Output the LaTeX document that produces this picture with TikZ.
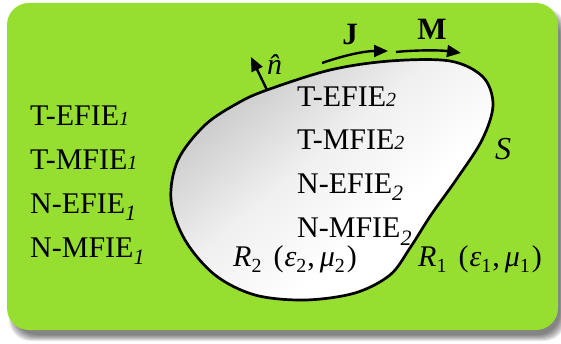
\documentclass[tikz,border=0pt]{standalone}
\usepackage{fontspec}
\setmainfont{Liberation Serif}
\usetikzlibrary{arrows.meta}
\definecolor{bggreen}{RGB}{150,223,48}
\newcommand{\subT}[1]{{\fontsize{20}{20}\selectfont\itshape #1}}
\newcommand{\subN}[1]{\raisebox{-7pt}{\fontsize{22}{22}\selectfont\itshape #1}}
\newcommand{\msub}[1]{\raisebox{-6pt}{\fontsize{20}{20}\selectfont #1}}
\pgfdeclareverticalshading{blobshade}{100bp}{color(0bp)=(white); color(38bp)=(white); color(55bp)=(black!6); color(70bp)=(black!18); color(85bp)=(black!30); color(100bp)=(black!30)}
\begin{document}
\begin{tikzpicture}[x=1pt,y=-1pt,
  lbl/.style={font=\fontsize{30}{36}\selectfont, inner sep=0pt, anchor=base west},
  bigl/.style={font=\fontsize{31}{36}\selectfont\bfseries, inner sep=0pt, anchor=base},
  arr/.style={line width=2.4pt, -{Triangle[length=14pt,width=12pt]}}]
\useasboundingbox (0,0) rectangle (561,344);
% shadow
\foreach \d in {-3,...,3}
  \fill[black,opacity=0.09,rounded corners=22] (12-\d,11-\d) rectangle (563+\d,338+\d);
% background box
\fill[bggreen, rounded corners=22] (7,3) rectangle (558,330);
% body
\shadedraw[shading=blobshade, shading angle=40, line width=2.7pt]
  plot[smooth cycle, tension=0.55] coordinates {
   (267,90) (330,70) (390,61) (450,61) (483,77) (493,105) (482,140) (456,180)
   (431,215) (410,248) (390,275) (355,293) (305,300) (255,295) (215,275)
   (185,240) (171,200) (178,160) (205,125) (238,103)};
% normal
\coordinate (nb) at (267,90);
\coordinate (nt) at (251,57);
\draw[arr] (nb) -- (nt);
\node[lbl] (nhat) at (267,75) {\itshape\^n};
% J and M
\coordinate (js) at (322,63);
\coordinate (je) at (388,51);
\draw[arr] (js) .. controls (345,55) and (365,51) .. (je);
\node[bigl] (J) at (350,45) {J};
\coordinate (ms) at (396,52);
\coordinate (me) at (461,53);
\draw[arr] (ms) .. controls (415,50) and (440,50) .. (me);
\node[bigl] (M) at (432,40) {M};
% outer labels
\node[lbl] (te1) at (30,126) {T-EFIE\subT{1}};
\node[lbl] (tm1) at (30,170) {T-MFIE\subT{1}};
\node[lbl] (ne1) at (30,214) {N-EFIE\subN{1}};
\node[lbl] (nm1) at (30,258) {N-MFIE\subN{1}};
% inner labels
\node[lbl] (te2) at (297,107) {T-EFIE\subT{2}};
\node[lbl] (tm2) at (297,150) {T-MFIE\subT{2}};
\node[lbl] (ne2) at (297,194) {N-EFIE\subN{2}};
\node[lbl] (nm2) at (297,238) {N-MFIE\subN{2}};
% regions
\node[lbl] (r2) at (233,266) {{\itshape R}\msub{2}\hspace{12pt}(\hspace{1pt}{\itshape ε}\msub{2}\hspace{1pt},\hspace{5pt}{\itshape μ}\msub{2}\hspace{2pt})};
\node[lbl] (r1) at (418,266) {{\itshape R}\msub{1}\hspace{12pt}(\hspace{1pt}{\itshape ε}\msub{1}\hspace{1pt},\hspace{5pt}{\itshape μ}\msub{1}\hspace{2pt})};
\node[lbl, font=\fontsize{32}{36}\selectfont\itshape] (S) at (495,160) {S};
\end{tikzpicture}
\end{document}
